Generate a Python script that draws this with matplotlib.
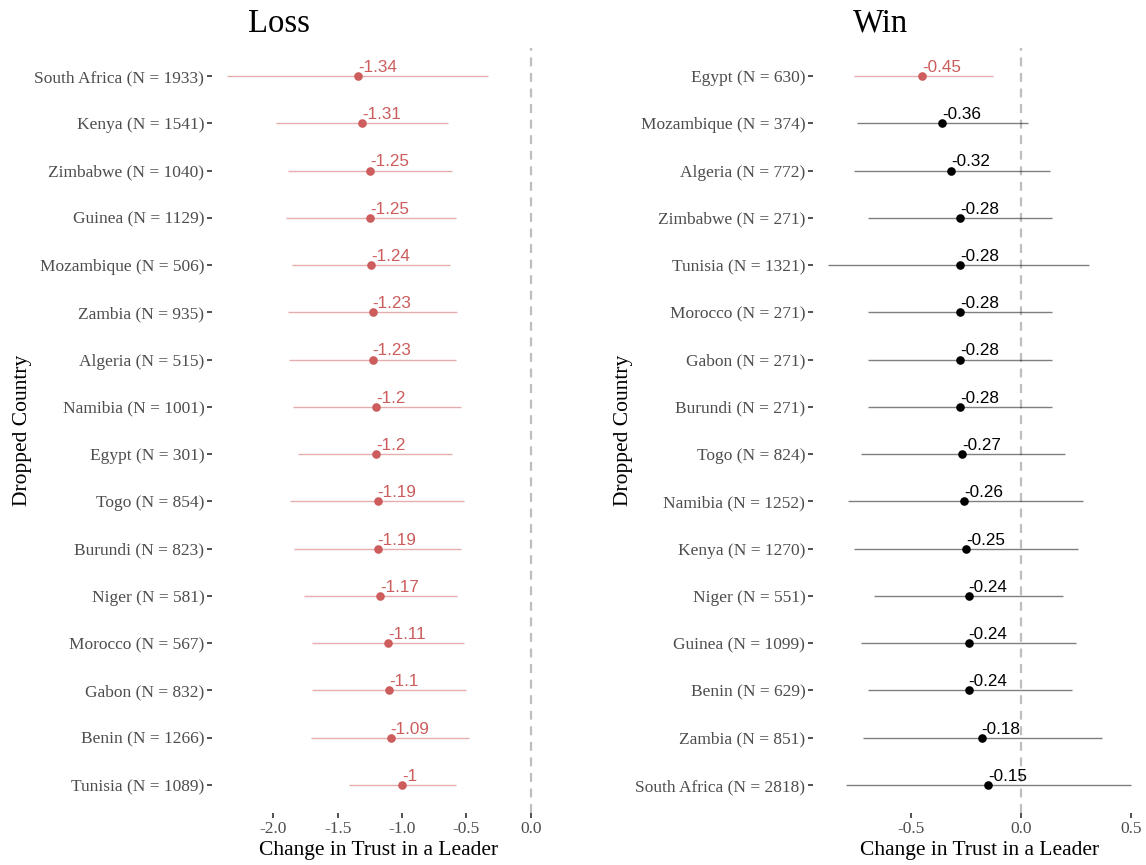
import matplotlib
matplotlib.use("Agg")
import matplotlib.pyplot as plt

# leave-one-country-out estimates
countries_loss = ["South Africa (N = 1933)", "Kenya (N = 1541)", "Zimbabwe (N = 1040)",
                  "Guinea (N = 1129)", "Mozambique (N = 506)", "Zambia (N = 935)",
                  "Algeria (N = 515)", "Namibia (N = 1001)", "Egypt (N = 301)",
                  "Togo (N = 854)", "Burundi (N = 823)", "Niger (N = 581)",
                  "Morocco (N = 567)", "Gabon (N = 832)", "Benin (N = 1266)",
                  "Tunisia (N = 1089)"]
est_loss = [-1.34, -1.31, -1.25, -1.25, -1.24, -1.23, -1.23, -1.2, -1.2, -1.19,
            -1.19, -1.17, -1.11, -1.1, -1.09, -1.0]
lo_loss = [-2.36, -1.98, -1.89, -1.90, -1.86, -1.89, -1.88, -1.85, -1.81, -1.87,
           -1.84, -1.76, -1.70, -1.70, -1.71, -1.41]
hi_loss = [-0.33, -0.64, -0.61, -0.58, -0.63, -0.57, -0.58, -0.54, -0.61, -0.52,
           -0.54, -0.57, -0.52, -0.50, -0.48, -0.58]
sig_loss = [True] * 16

countries_win = ["Egypt (N = 630)", "Mozambique (N = 374)", "Algeria (N = 772)",
                 "Zimbabwe (N = 271)", "Tunisia (N = 1321)", "Morocco (N = 271)",
                 "Gabon (N = 271)", "Burundi (N = 271)", "Togo (N = 824)",
                 "Namibia (N = 1252)", "Kenya (N = 1270)", "Niger (N = 551)",
                 "Guinea (N = 1099)", "Benin (N = 629)", "Zambia (N = 851)",
                 "South Africa (N = 2818)"]
est_win = [-0.45, -0.36, -0.32, -0.28, -0.28, -0.28, -0.28, -0.28, -0.27, -0.26,
           -0.25, -0.24, -0.24, -0.24, -0.18, -0.15]
lo_win = [-0.76, -0.75, -0.76, -0.70, -0.88, -0.70, -0.70, -0.70, -0.73, -0.79,
          -0.76, -0.67, -0.73, -0.70, -0.72, -0.80]
hi_win = [-0.13, 0.03, 0.13, 0.14, 0.31, 0.14, 0.14, 0.14, 0.20, 0.28,
          0.26, 0.19, 0.25, 0.23, 0.37, 0.50]
sig_win = [True] + [False] * 15

RED = "#CD5C5C"
SERIF = "Liberation Serif"
SANS = "Liberation Sans"

W, H = 1146, 865
fig = plt.figure(figsize=(W / 100, H / 100), dpi=100)

bottom = 1 - 813.4 / H
height = (813.4 - 47.6) / H


def panel(left_px, right_px, title, title_px, labels, est, lo, hi, sig):
    ax = fig.add_axes([left_px / W, bottom, (right_px - left_px) / W, height])
    n = len(labels)
    ys = list(range(n - 1, -1, -1))
    for y, e, l, h, s in zip(ys, est, lo, hi, sig):
        c = RED if s else "black"
        ax.plot([l, h], [y, y], color=c, alpha=0.5, lw=1.0, solid_capstyle="butt", zorder=2)
        ax.plot([e], [y], "o", color=c, ms=6.2, mec="none", zorder=3)
        ax.annotate(f"{e:g}", (e, y), xytext=(0, 0.8), textcoords="offset points",
                    ha="left", va="bottom", color=c, fontsize=12.3, family=SANS)
    ax.axvline(0, color="#BEBEBE", ls=(0, (4, 3)), lw=1.6, zorder=1)
    xmin = min(min(lo), 0)
    xmax = max(max(hi), 0)
    pad = (xmax - xmin) * 0.05
    ax.set_xlim(xmin - pad, xmax + pad)
    ax.set_ylim(-0.6, n - 0.4)
    ax.set_yticks(ys)
    ax.set_yticklabels(labels)
    for sp in ax.spines.values():
        sp.set_visible(False)
    ax.tick_params(axis="both", length=3.5, width=1.2, color="#333333",
                   labelcolor="#4D4D4D", labelsize=12.5, pad=2)
    for t in ax.get_xticklabels() + ax.get_yticklabels():
        t.set_family(SERIF)
    ax.set_xlabel("Change in Trust in a Leader", family=SERIF, fontsize=15.5, labelpad=3)
    ax.set_ylabel("Dropped Country", family=SERIF, fontsize=15.5, labelpad=2)
    fig.text(title_px / W, 1 - 32 / H, title, family=SERIF, fontsize=23.5,
             ha="left", va="baseline")
    return ax


ax1 = panel(212, 546, "Loss", 248, countries_loss, est_loss, lo_loss, hi_loss, sig_loss)
ax1.set_xticks([-2.0, -1.5, -1.0, -0.5, 0.0])
ax1.set_xticklabels(["-2.0", "-1.5", "-1.0", "-0.5", "0.0"])
ax2 = panel(813, 1146, "Win", 853, countries_win, est_win, lo_win, hi_win, sig_win)
ax2.set_xticks([-0.5, 0.0, 0.5])
ax2.set_xticklabels(["-0.5", "0.0", "0.5"])
for ax in (ax1, ax2):
    for t in ax.get_xticklabels():
        t.set_family(SERIF)

fig.savefig("out.png", dpi=100)
